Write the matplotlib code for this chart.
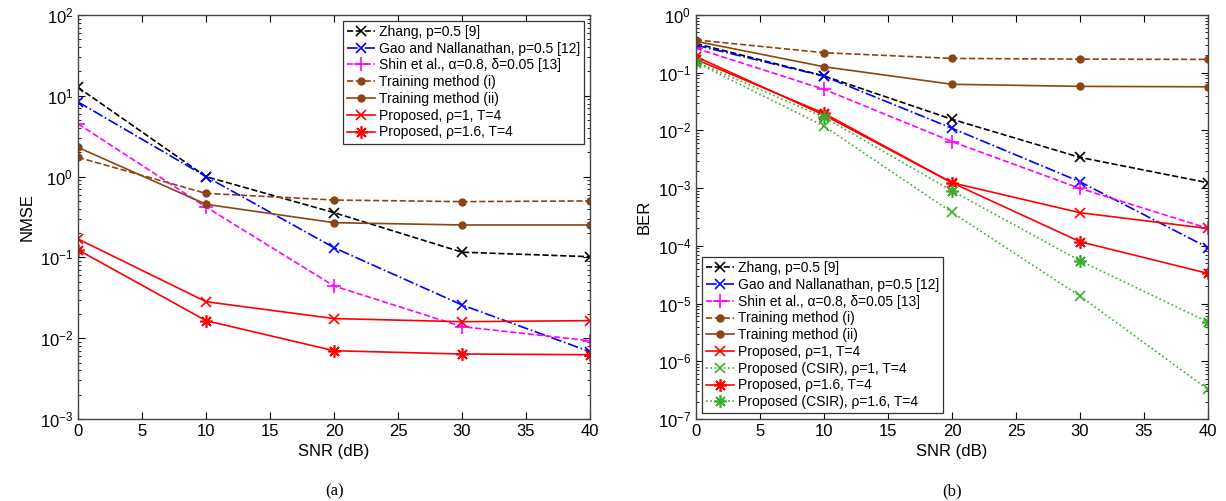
import numpy as np
import matplotlib
matplotlib.use("Agg")
import matplotlib.pyplot as plt
from matplotlib.ticker import LogLocator, NullFormatter, MultipleLocator

plt.rcParams['font.family'] = ['Liberation Sans', 'DejaVu Sans']
plt.rcParams['mathtext.default'] = 'regular'

######### Data #########

snr = [0, 10, 20, 30, 40]

# (a) NMSE
nmse_zhang = [12.7, 1.0, 0.358, 0.116, 0.102]
nmse_gao = [8.4, 1.0, 0.132, 0.0258, 0.0068]
nmse_shin = [4.5, 0.42, 0.0443, 0.0139, 0.0093]
nmse_train1 = [1.73, 0.62, 0.513, 0.49, 0.50]
nmse_train2 = [2.30, 0.454, 0.269, 0.252, 0.252]
nmse_prop1 = [0.169, 0.0283, 0.0175, 0.016, 0.0165]
nmse_prop16 = [0.124, 0.0165, 0.0070, 0.00637, 0.00625]

# (b) BER
ber_zhang = [0.32, 0.088, 0.0156, 0.00341, 0.00124]
ber_gao = [0.30, 0.087, 0.0109, 0.00129, 9.3e-5]
ber_shin = [0.265, 0.0515, 0.0064, 0.00099, 0.000201]
ber_train1 = [0.37, 0.222, 0.177, 0.172, 0.170]
ber_train2 = [0.35, 0.127, 0.063, 0.058, 0.057]
ber_prop1 = [0.19, 0.0185, 0.00124, 0.000375, 0.0002]
ber_csir1 = [0.15, 0.0119, 0.00038, 1.35e-5, 3.26e-7]
ber_prop16 = [0.17, 0.0198, 0.00124, 0.000118, 3.33e-5]
ber_csir16 = [0.155, 0.0169, 0.0009, 5.5e-5, 4.8e-6]

lbl_zhang = "Zhang, p=0.5 [9]"
lbl_gao = "Gao and Nallanathan, p=0.5 [12]"
lbl_shin = "Shin et al., \u03b1=0.8, \u03b4=0.05 [13]"
lbl_train1 = "Training method (i)"
lbl_train2 = "Training method (ii)"
lbl_prop1 = "Proposed, \u03c1=1, T=4"
lbl_csir1 = "Proposed (CSIR), \u03c1=1, T=4"
lbl_prop16 = "Proposed, \u03c1=1.6, T=4"
lbl_csir16 = "Proposed (CSIR), \u03c1=1.6, T=4"

brown = '#8b4513'
green = '#3aad2e'
ast = (8, 2, 0)   # matlab style asterisk

fig = plt.figure(figsize=(12.26, 5.01), dpi=100)
ax1 = fig.add_axes([78/1226, 82/501, 512/1226, 404/501])
ax2 = fig.add_axes([696/1226, 82/501, 512/1226, 404/501])

kw = dict(lw=1.2, ms=7, mew=1.2)
kw_plus = dict(lw=1.2, ms=10, mew=1.2)
kw_ast = dict(lw=1.2, ms=9, mew=1.2)
kw_dot = dict(lw=1.2, ms=5)

leg_kw = dict(fontsize=10, fancybox=False, edgecolor='#333333', framealpha=1,
              handlelength=2.0, borderpad=0.3, labelspacing=0.2,
              handletextpad=0.3, borderaxespad=0.4)

######### (a) #########
ax1.semilogy(snr, nmse_zhang, 'k--', marker='x', label=lbl_zhang, **kw)
ax1.semilogy(snr, nmse_gao, 'b-.', marker='x', label=lbl_gao, **kw)
ax1.semilogy(snr, nmse_shin, '--', color='magenta', marker='+', label=lbl_shin, **kw_plus)
ax1.semilogy(snr, nmse_train1, '--', color=brown, marker='o', label=lbl_train1, **kw_dot)
ax1.semilogy(snr, nmse_train2, '-', color=brown, marker='o', label=lbl_train2, **kw_dot)
ax1.semilogy(snr, nmse_prop1, '-', color='red', marker='x', label=lbl_prop1, **kw)
ax1.semilogy(snr, nmse_prop16, '-', color='red', marker=ast, label=lbl_prop16, **kw_ast)
ax1.set_ylim(1e-3, 1e2)
ax1.set_ylabel("NMSE", fontsize=12)
ax1.legend(loc='upper right', **leg_kw).get_frame().set_linewidth(0.9)

######### (b) #########
ax2.semilogy(snr, ber_zhang, 'k--', marker='x', label=lbl_zhang, **kw)
ax2.semilogy(snr, ber_gao, 'b-.', marker='x', label=lbl_gao, **kw)
ax2.semilogy(snr, ber_shin, '--', color='magenta', marker='+', label=lbl_shin, **kw_plus)
ax2.semilogy(snr, ber_train1, '--', color=brown, marker='o', label=lbl_train1, **kw_dot)
ax2.semilogy(snr, ber_train2, '-', color=brown, marker='o', label=lbl_train2, **kw_dot)
ax2.semilogy(snr, ber_prop1, '-', color='red', marker='x', label=lbl_prop1, **kw)
ax2.semilogy(snr, ber_csir1, ':', color=green, marker='x', label=lbl_csir1, **kw)
ax2.semilogy(snr, ber_prop16, '-', color='red', marker=ast, label=lbl_prop16, **kw_ast)
ax2.semilogy(snr, ber_csir16, ':', color=green, marker=ast, label=lbl_csir16, **kw_ast)
ax2.set_ylim(1e-7, 1e0)
ax2.set_ylabel("BER", fontsize=12)
ax2.legend(loc='lower left', **leg_kw).get_frame().set_linewidth(0.9)

for ax in (ax1, ax2):
    ax.set_xlim(0, 40)
    ax.xaxis.set_major_locator(MultipleLocator(5))
    ax.yaxis.set_major_locator(LogLocator(base=10, numticks=20))
    ax.yaxis.set_minor_locator(LogLocator(base=10, subs=np.arange(2, 10), numticks=20))
    ax.yaxis.set_minor_formatter(NullFormatter())
    ax.tick_params(which='both', direction='in', top=True, right=True, labelsize=12)
    ax.tick_params(which='major', length=5)
    ax.tick_params(which='minor', length=2.5)
    ax.set_xlabel("SNR (dB)", fontsize=12)
    for s in ax.spines.values():
        s.set_color('#444444')
        s.set_linewidth(1.0)

fig.text(335/1226, 1 - 491/501, "(a)", ha='center', va='center', fontsize=12, family='Liberation Serif')
fig.text(952/1226, 1 - 491/501, "(b)", ha='center', va='center', fontsize=12, family='Liberation Serif')

fig.savefig("out.png", dpi=100)
